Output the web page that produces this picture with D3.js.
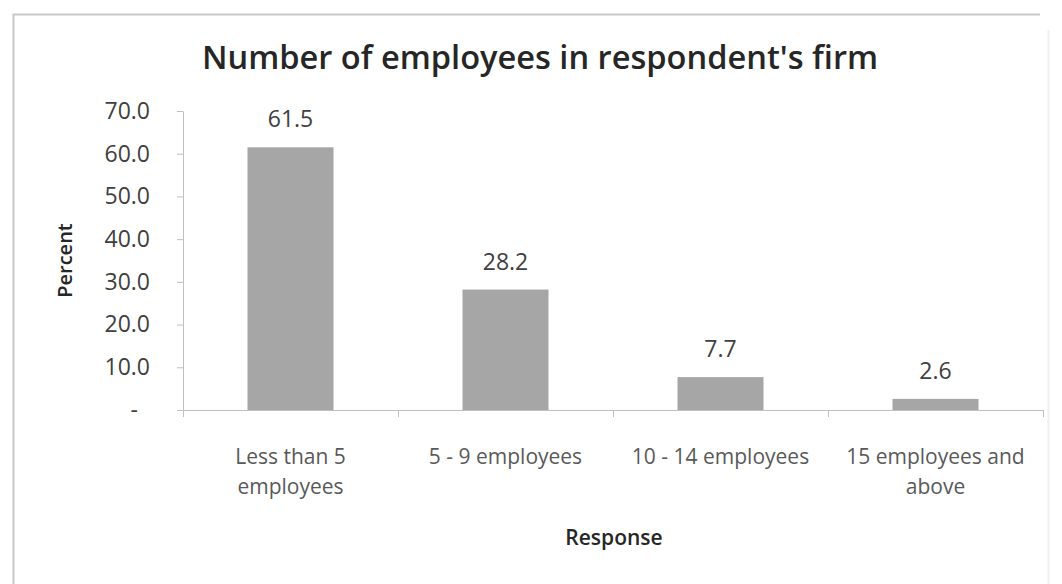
<!DOCTYPE html>
<html>
<head>
<meta charset="utf-8">
<script src="https://cdn.jsdelivr.net/npm/d3@7"></script>
<style>
  html, body { margin: 0; padding: 0; background: #ffffff; }
  svg { display: block; font-family: "Open Sans", "Liberation Sans", sans-serif; }
</style>
</head>
<body>
<svg id="chart" width="1062" height="584"></svg>
<script>
// Survey: size of respondent's firm
const categories = ["Less than 5 employees", "5 - 9 employees", "10 - 14 employees", "15 employees and above"];
const percents = [61.5, 28.2, 7.7, 2.6];
const yTicks = [0, 10, 20, 30, 40, 50, 60, 70];

const svg = d3.select("#chart");
const W = 1062, H = 584;

// chart frame (left and top edges show, right fades out)
svg.append("rect").attr("x", 0).attr("y", 0).attr("width", W).attr("height", H).attr("fill", "#fff");
svg.append("path")
  .attr("d", "M13.5,584 L13.5,14.5 L1040,14.5")
  .attr("fill", "none").attr("stroke", "#c8c8c8").attr("stroke-width", 2);
svg.append("path")
  .attr("d", "M1048.5,30 L1048.5,584")
  .attr("fill", "none").attr("stroke", "#f0f0f0").attr("stroke-width", 2);

const plot = { left: 183, right: 1043, top: 111, bottom: 410 };

const x = d3.scaleBand()
  .domain(categories)
  .range([plot.left, plot.right])
  .paddingInner(0.6)
  .paddingOuter(0.3);

const y = d3.scaleLinear()
  .domain([0, 70])
  .range([plot.bottom, plot.top]);

// title
svg.append("text")
  .attr("x", 540).attr("y", 69)
  .attr("text-anchor", "middle")
  .attr("font-size", 32.6).attr("font-weight", 600)
  .attr("fill", "#262626")
  .text("Number of employees in respondent's firm");

// value axis
const yAxis = d3.axisLeft(y)
  .tickValues(yTicks)
  .tickSize(6)
  .tickSizeOuter(0)
  .tickPadding(27)
  .tickFormat(d => d === 0 ? "-" : d3.format(".1f")(d));

const gy = svg.append("g")
  .attr("transform", `translate(${plot.left},0)`)
  .call(yAxis);
gy.select(".domain").attr("stroke", "#c0c0c0");
gy.selectAll(".tick line").attr("stroke", "#c0c0c0");
gy.selectAll(".tick text")
  .attr("font-size", 23).attr("fill", "#404040")
  .attr("font-family", "'Open Sans', sans-serif")
  .attr("dx", d => d === 0 ? -12 : 0);

// bars
svg.append("g").selectAll("rect")
  .data(percents)
  .join("rect")
  .attr("x", (d, i) => x(categories[i]))
  .attr("y", d => y(d))
  .attr("width", x.bandwidth())
  .attr("height", d => y(0) - y(d))
  .attr("fill", "#a6a6a6");

// value labels
svg.append("g").selectAll("text")
  .data(percents)
  .join("text")
  .attr("x", (d, i) => x(categories[i]) + x.bandwidth() / 2)
  .attr("y", d => y(d) - 20)
  .attr("text-anchor", "middle")
  .attr("font-size", 23).attr("fill", "#404040")
  .text(d => d3.format(".1f")(d));

// category axis: baseline and tick marks on band boundaries
const gx = svg.append("g");
gx.append("line")
  .attr("x1", x.range()[0]).attr("x2", x.range()[1])
  .attr("y1", y(0) + 0.5).attr("y2", y(0) + 0.5)
  .attr("stroke", "#c0c0c0");
const boundaries = d3.range(categories.length + 1).map(i => x.range()[0] + i * x.step());
gx.selectAll("line.tick")
  .data(boundaries)
  .join("line")
  .attr("class", "tick")
  .attr("x1", d => Math.round(d) + 0.5).attr("x2", d => Math.round(d) + 0.5)
  .attr("y1", y(0)).attr("y2", y(0) + 7)
  .attr("stroke", "#c0c0c0");

// category labels, wrapped to the band width
const maxW = x.step() - 6;
categories.forEach(c => {
  const cx = x(c) + x.bandwidth() / 2;
  const t = gx.append("text")
    .attr("x", cx)
    .attr("y", 464)
    .attr("text-anchor", "middle")
    .attr("font-size", 21).attr("fill", "#595959");
  const words = c.split(" ");
  let line = [];
  let tspan = t.append("tspan").attr("x", cx).attr("dy", 0);
  words.forEach(w => {
    line.push(w);
    tspan.text(line.join(" "));
    if (tspan.node().getComputedTextLength() > maxW && line.length > 1) {
      line.pop();
      tspan.text(line.join(" "));
      line = [w];
      tspan = t.append("tspan").attr("x", cx).attr("dy", 30).text(w);
    }
  });
});

// axis titles
svg.append("text")
  .attr("transform", `translate(72,${(plot.top + plot.bottom) / 2}) rotate(-90)`)
  .attr("text-anchor", "middle")
  .attr("font-size", 20).attr("font-weight", 600)
  .attr("fill", "#262626")
  .text("Percent");

svg.append("text")
  .attr("x", 614).attr("y", 545)
  .attr("text-anchor", "middle")
  .attr("font-size", 21).attr("font-weight", 600)
  .attr("fill", "#262626")
  .text("Response");
</script>
</body>
</html>
